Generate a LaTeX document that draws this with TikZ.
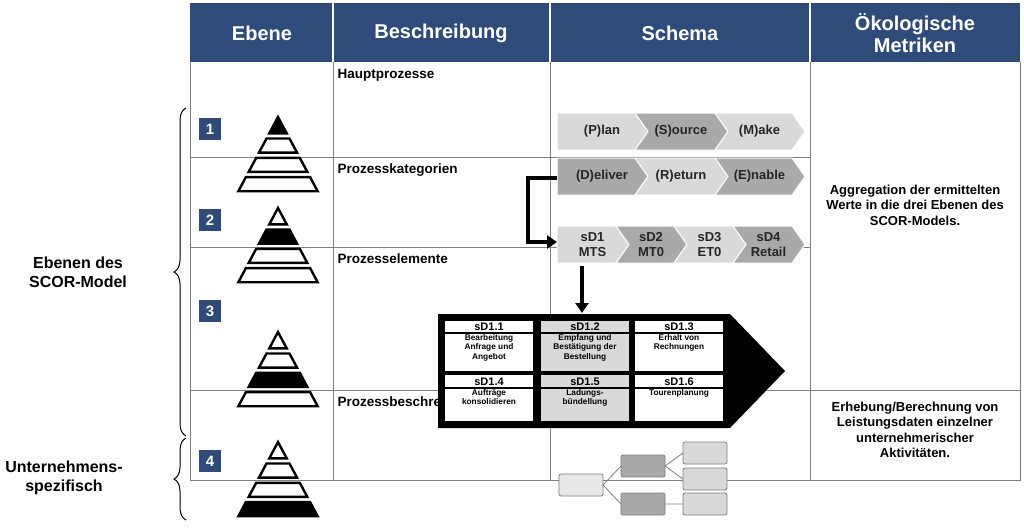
\documentclass[tikz,border=0pt]{standalone}
\usepackage{fontspec}
\setmainfont{Liberation Sans}
\usetikzlibrary{decorations.pathreplacing,arrows.meta}
\definecolor{hdr}{HTML}{2F4B7A}
\definecolor{lg}{HTML}{D9D9D9}
\definecolor{dg}{HTML}{A9A9A9}
\definecolor{gl}{HTML}{7F7F7F}
\newcommand{\chev}[7]{% x0 x1 y0 y1 fill notch text
  \pgfmathsetmacro{\ym}{(#3+#4)/2}
  \ifnum#6=1
    \fill[#5,draw=white,line width=1pt] (#1,#3) -- (#2,#3) -- (#2+13,\ym) -- (#2,#4) -- (#1,#4) -- (#1+13,\ym) -- cycle;
  \else
    \fill[#5,draw=white,line width=1pt] (#1,#3) -- (#2,#3) -- (#2+13,\ym) -- (#2,#4) -- (#1,#4) -- cycle;
  \fi
  \node[chevtxt] at ({(#1+#2)/2+6},\ym) {#7};}
\newcommand{\pyr}[3]{% cx top filledband
  \foreach \i in {0,1,2,3}{
    \pgfmathsetmacro{\ta}{\i==0 ? 0 : \i*19.3+2.2}
    \pgfmathsetmacro{\tb}{\i*19.3+16.3}
    \pgfmathsetmacro{\wa}{39*\ta/73}
    \pgfmathsetmacro{\wb}{39*\tb/73}
    \pgfmathsetmacro{\fc}{\i==#3 ? 1 : 0}
    \ifdim\fc pt>0.5pt
      \filldraw[line width=2.4pt,line join=miter,fill=black] (#1-\wa,#2+\ta) -- (#1+\wa,#2+\ta) -- (#1+\wb,#2+\tb) -- (#1-\wb,#2+\tb) -- cycle;
    \else
      \filldraw[line width=2.4pt,line join=miter,fill=white] (#1-\wa,#2+\ta) -- (#1+\wa,#2+\ta) -- (#1+\wb,#2+\tb) -- (#1-\wb,#2+\tb) -- cycle;
    \fi}}
\begin{document}
\begin{tikzpicture}[x=1pt,y=-1pt,
  hdrtxt/.style={text=white,font=\fontsize{20}{22}\selectfont\bfseries,align=center},
  coltxt/.style={anchor=west,font=\fontsize{13.5}{15}\selectfont\bfseries},
  chevtxt/.style={font=\fontsize{13}{15}\selectfont\bfseries,text=black!85,align=center},
  num/.style={fill=hdr,text=white,minimum size=22pt,inner sep=0pt,font=\fontsize{15}{15}\selectfont\bfseries},
  rtxt/.style={font=\fontsize{13}{15.5}\selectfont\bfseries,align=center},
  ltxt/.style={font=\fontsize{16}{19}\selectfont\bfseries,align=center},
  cellh/.style={font=\fontsize{11}{11}\selectfont\bfseries},
  cellt/.style={font=\fontsize{8.3}{9.2}\selectfont\bfseries,align=center,anchor=north,inner sep=1.5pt},
  tbox/.style={draw=gl,rounded corners=2pt,line width=0.8pt},
  grid/.style={draw=gl,line width=0.9pt},
  thick arrow/.style={line width=3.5pt,-{Triangle[length=10pt,width=13pt]}}]
\useasboundingbox (0,0) rectangle (1024,528);
\fill[white] (0,0) rectangle (1024,528);
% header
\fill[hdr] (190,3) rectangle (1020,62);
\foreach \x in {333,550,810} \draw[white,line width=1.5pt] (\x,3) -- (\x,62);
\node[hdrtxt] (h1) at (262,33) {Ebene};
\node[hdrtxt] (h2) at (441,33) {Beschreibung};
\node[hdrtxt] (h3) at (680,33) {Schema};
\node[hdrtxt] (h4) at (915,33) {Ökologische\\Metriken};
% grid
\draw[grid] (190,62) -- (190,480) -- (1020,480) -- (1020,62);
\foreach \x in {333,550,810} \draw[grid] (\x,62) -- (\x,480);
\draw[grid] (190,157) -- (810,157);
\draw[grid] (190,247) -- (810,247);
\draw[grid] (190,390) -- (1020,390);
% column 2
\node[coltxt] (c1) at (334,75) {Hauptprozesse};
\node[coltxt] (c2) at (334,170) {Prozesskategorien};
\node[coltxt] (c3) at (334,259) {Prozesselemente};
\node[coltxt] (c4) at (334,403) {Prozessbeschreibung};
% numbers and pyramids
\node[num] (n1) at (210,129) {1};
\node[num] (n2) at (210,220) {2};
\node[num] (n3) at (210,311) {3};
\node[num] (n4) at (210,461) {4};
\pyr{278}{117}{0}
\pyr{278}{208}{1}
\pyr{278}{332}{2}
\pyr{278}{442}{3}
% chevrons
\chev{557}{635}{113}{150}{lg}{0}{(P)lan}
\chev{635}{715}{113}{150}{dg}{1}{(S)ource}
\chev{715}{792}{113}{150}{lg}{1}{(M)ake}
\chev{557}{635}{158}{195}{dg}{0}{(D)eliver}
\chev{635}{715}{158}{195}{lg}{1}{(R)eturn}
\chev{715}{792}{158}{195}{dg}{1}{(E)nable}
\chev{557}{616}{226}{263}{lg}{0}{sD1\\MTS}
\chev{616}{674}{226}{263}{dg}{1}{sD2\\MT0}
\chev{674}{733}{226}{263}{lg}{1}{sD3\\ET0}
\chev{733}{792}{226}{263}{dg}{1}{sD4\\Retail}
\coordinate (dl) at (557,178);
\coordinate (s1) at (557,242);
\coordinate (s1b) at (582,266);
\coordinate (bt) at (582,313);
\draw[thick arrow,line join=miter] (dl) -- (528,178) -- (528,242) -- (s1);
\draw[thick arrow] (s1b) -- (bt);
% big arrow
\fill[black] (438,314) -- (730,314) -- (785,371) -- (730,428) -- (438,428) -- cycle;
\foreach \cx/\c in {445/white,541/lg,635/white}{
  \fill[\c] (\cx,321) rectangle (\cx+88,371);
  \fill[\c] (\cx,375) rectangle (\cx+88,421);
  \draw[black,line width=1.5pt] (\cx,333) -- (\cx+88,333);
  \draw[black,line width=1.5pt] (\cx,388) -- (\cx+88,388);}
\node[cellh] (e1) at (489,327) {sD1.1};
\node[cellh] (e2) at (585,327) {sD1.2};
\node[cellh] (e3) at (679,327) {sD1.3};
\node[cellh] (e4) at (489,381.5) {sD1.4};
\node[cellh] (e5) at (585,381.5) {sD1.5};
\node[cellh] (e6) at (679,381.5) {sD1.6};
\node[cellt] (t1) at (489,333) {Bearbeitung\\Anfrage und\\Angebot};
\node[cellt] (t2) at (585,333) {Empfang und\\Bestätigung der\\Bestellung};
\node[cellt] (t3) at (679,333) {Erhalt von\\Rechnungen};
\node[cellt] (t4) at (489,388) {Aufträge\\konsolidieren};
\node[cellt] (t5) at (585,388) {Ladungs-\\bündellung};
\node[cellt] (t6) at (679,388) {Tourenplanung};
% tree
\path[tbox,fill=lg!60] (559,474) rectangle (603,496) node[pos=.5] (ta) {};
\path[tbox,fill=dg] (621,455) rectangle (665,477) node[pos=.5] (tb) {};
\path[tbox,fill=dg] (621,493) rectangle (665,515) node[pos=.5] (tc) {};
\path[tbox,fill=lg] (683,442) rectangle (727,464) node[pos=.5] (td) {};
\path[tbox,fill=lg] (683,468) rectangle (727,490) node[pos=.5] (te) {};
\path[tbox,fill=lg] (683,493) rectangle (727,515) node[pos=.5] (tf) {};
\draw[gl,line width=0.8pt] (603,485) -- (621,466) (603,485) -- (621,504)
  (665,466) -- (683,453) (665,466) -- (683,479) (665,504) -- (683,504);
% right column
\node[rtxt] (r1) at (915,205) {Aggregation der ermittelten\\Werte in die drei Ebenen des\\SCOR-Models.};
\node[rtxt] (r2) at (915,430) {Erhebung/Berechnung von\\Leistungsdaten einzelner\\unternehmerischer\\Aktivitäten.};
% braces
\draw[decorate,decoration={brace,amplitude=12pt},line width=1pt] (186,436) -- (186,108);
\draw[decorate,decoration={brace,amplitude=12pt},line width=1pt] (186,520) -- (186,438);
\node[ltxt] (l1) at (78,272) {Ebenen des\\SCOR-Model};
\node[ltxt] (l2) at (64,478) {Unternehmens-\\spezifisch};
\end{tikzpicture}
\end{document}
